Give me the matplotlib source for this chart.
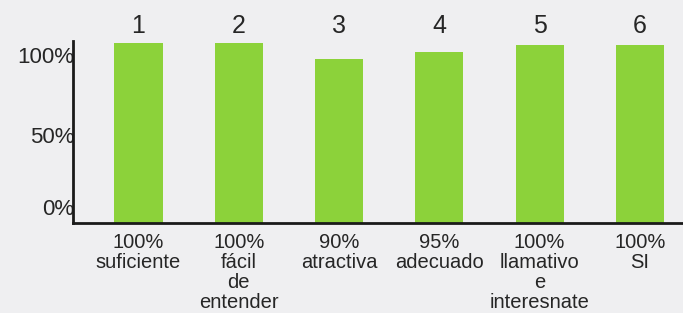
import matplotlib
matplotlib.use("Agg")
import matplotlib.pyplot as plt

plt.rcParams['font.family'] = ['Liberation Sans', 'DejaVu Sans']

numbers = ["1", "2", "3", "4", "5", "6"]
heights = [100, 100, 91, 95, 99, 99]
labels = ["100%\nsuficiente", "100%\nfácil\nde\nentender", "90%\natractiva",
          "95%\nadecuado", "100%\nllamativo\ne\ninteresnate", "100%\nSI"]
ytick_pos = [9, 49, 93]
ytick_labels = ["0%", "50%", "100%"]

bg = '#efeff1'
green = '#8cd23a'
ink = '#262626'

fig = plt.figure(figsize=(6.83, 3.13), dpi=100, facecolor=bg)
ax = fig.add_axes([73 / 683, 90 / 313, 610 / 683, 182 / 313])
ax.set_facecolor(bg)

x = list(range(len(heights)))
ax.bar(x, heights, width=0.48, color=green, zorder=2)

ax.set_xlim(-0.653, 5.43)
ax.set_ylim(0, 101)

for sp in ['top', 'right']:
    ax.spines[sp].set_visible(False)
for sp in ['left', 'bottom']:
    ax.spines[sp].set_linewidth(2)
    ax.spines[sp].set_color('#1a1a1a')
    ax.spines[sp].set_zorder(3)

ax.set_yticks(ytick_pos)
ax.set_yticklabels(ytick_labels, fontsize=16, color=ink)
ax.tick_params(axis='y', length=0, pad=-1)

ax.set_xticks(x)
ax.set_xticklabels(labels, fontsize=14.5, color=ink, linespacing=1.08)
ax.tick_params(axis='x', length=0, pad=7)

# numbers above the bars
for xi, n in zip(x, numbers):
    ax.text(xi, 1.0 + 15 / 182, n, transform=ax.get_xaxis_transform(),
            ha='center', va='center', fontsize=18, color=ink, clip_on=False)

fig.savefig("out.png", dpi=100, facecolor=bg)
